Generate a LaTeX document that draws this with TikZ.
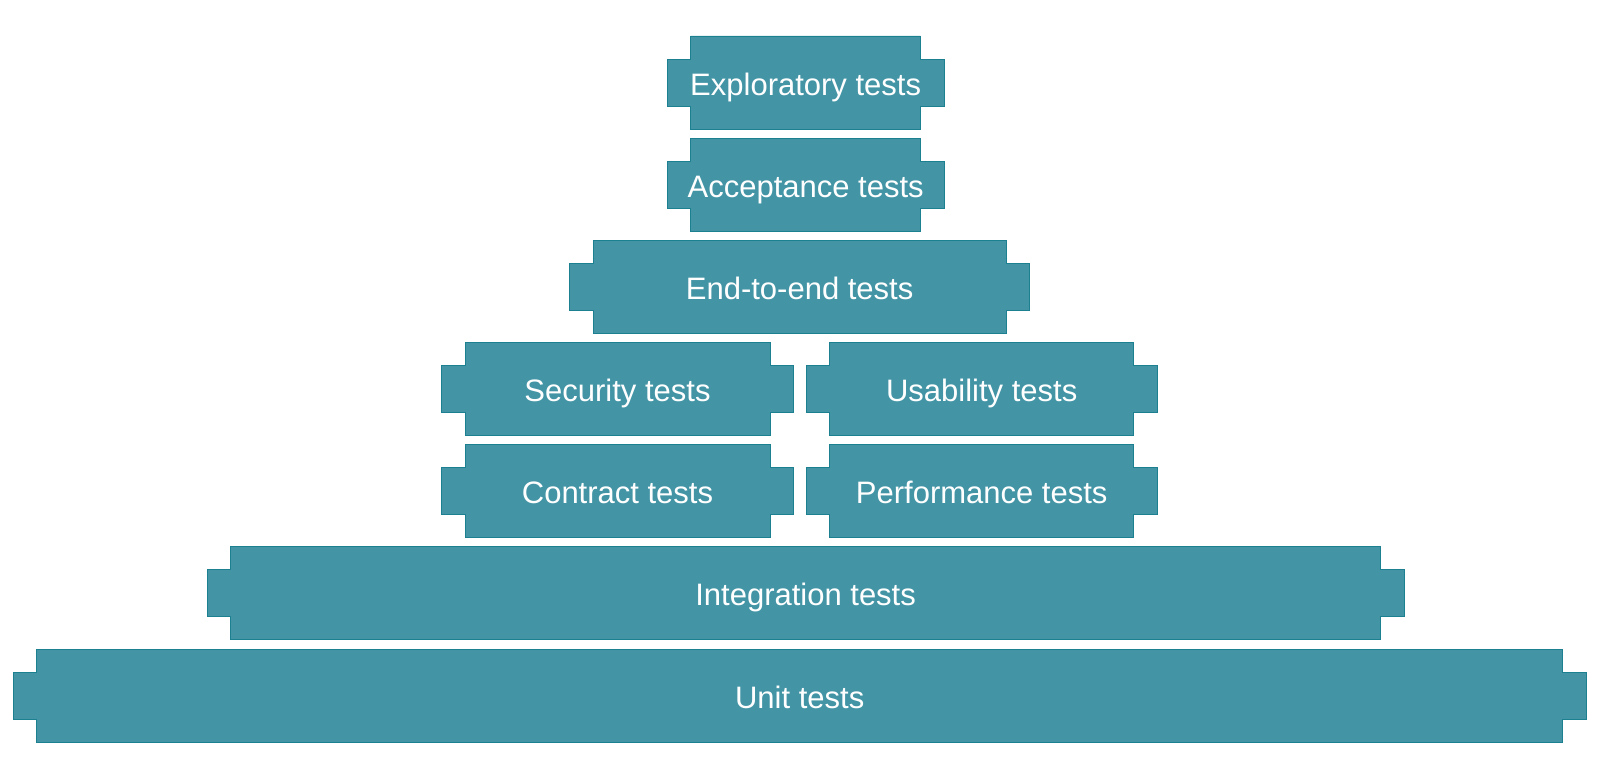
\documentclass[tikz,border=0pt]{standalone}
\usepackage{fontspec}
\setmainfont{Liberation Sans}
\definecolor{tealfill}{RGB}{67,149,166}
\definecolor{tealedge}{RGB}{28,128,144}
\tikzset{
  tabshape/.style={fill=tealfill, draw=tealedge, line width=0.8pt},
  tablabel/.style={text=white, font=\fontsize{31}{36}\selectfont, inner sep=0pt, anchor=base}
}
\newcommand\tabbox[5]{%
  \draw[tabshape] (#2,#4) -- (#3,#4) -- (#3,#4+23.4) -- (#3+23.4,#4+23.4) -- (#3+23.4,#4+70.1)
    -- (#3,#4+70.1) -- (#3,#4+93.5) -- (#2,#4+93.5) -- (#2,#4+70.1) -- (#2-23.4,#4+70.1)
    -- (#2-23.4,#4+23.4) -- (#2,#4+23.4) -- cycle;
  \node[tablabel] (#1) at ({(#2+#3)/2},#4+59.5) {#5};%
}
\begin{document}
\begin{tikzpicture}[x=1pt,y=-1pt]
\useasboundingbox (0,0) rectangle (1600,776);
\tabbox{expl}{690.7}{920.6}{36}{Exploratory tests}
\tabbox{acc}{690.7}{920.6}{138}{Acceptance tests}
\tabbox{e2e}{593}{1006.2}{240}{End-to-end tests}
\tabbox{sec}{465}{770}{342}{Security tests}
\tabbox{usa}{829.6}{1133.8}{342}{Usability tests}
\tabbox{con}{465}{770}{444}{Contract tests}
\tabbox{perf}{829.6}{1133.8}{444}{Performance tests}
\tabbox{integ}{230.6}{1380.6}{546}{Integration tests}
\tabbox{unit}{36.7}{1562.7}{649}{Unit tests}
\end{tikzpicture}
\end{document}
